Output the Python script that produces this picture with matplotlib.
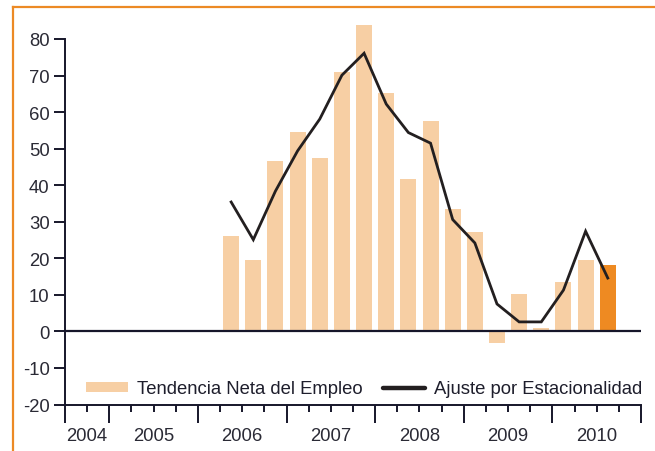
#!/usr/bin/env python3
"""Tendencia neta del empleo vs. ajuste por estacionalidad (trimestral)."""

import matplotlib
matplotlib.use('Agg')
import matplotlib.pyplot as plt
from matplotlib.lines import Line2D
from matplotlib.patches import Patch

plt.rcParams['font.family'] = ['Liberation Sans', 'DejaVu Sans']
plt.rcParams['axes.unicode_minus'] = False

# Years shown on the x axis and how many quarters each one spans
years = ['2004', '2005', '2006', '2007', '2008', '2009', '2010']
quarters_per_year = [2, 4, 4, 4, 4, 4, 4]
first_quarter = [3, 1, 1, 1, 1, 1, 1]

# Series start in 2006 Q2
series_start = ('2006', 2)
tendencia = [26.2, 19.4, 46.5, 54.5, 47.4, 71.0, 83.8, 65.2, 41.6, 57.5,
             33.4, 27.2, -3.3, 10.1, 0.9, 13.4, 19.5, 18.3]
ajuste = [35.4, 25.1, 38.4, 49.4, 58.1, 70.1, 76.1, 62.2, 54.4, 51.5,
          30.6, 24.2, 7.5, 2.6, 2.6, 11.3, 27.4, 14.6]

BAR_LIGHT = '#F7CFA4'
BAR_DARK = '#EE8A22'
LINE_COL = '#231F20'
AXIS_COL = '#16162A'
TEXT_COL = '#1E1E2C'
FS = 13.3

# quarter slots along the axis
slots = []
for y, n, q0 in zip(years, quarters_per_year, first_quarter):
    for k in range(n):
        slots.append((y, q0 + k))
start = slots.index(series_start)
xs = [start + i + 0.5 for i in range(len(tendencia))]
bar_colors = [BAR_LIGHT] * (len(tendencia) - 1) + [BAR_DARK]

fig = plt.figure(figsize=(6.55, 4.52), dpi=100)
W, H = 655, 452
ax = fig.add_axes([65 / W, (H - 405.5) / H, 576 / W, 365.5 / H])

ax.bar(xs, tendencia, width=0.72, color=bar_colors, clip_on=False, zorder=2)
ax.plot(xs, ajuste, color=LINE_COL, linewidth=2.0, zorder=3,
        solid_joinstyle='miter')
ax.axhline(0, color=AXIS_COL, linewidth=1.6, zorder=4)

ax.set_xlim(0, len(slots))
ax.set_ylim(-20, 80)

for side in ['top', 'right']:
    ax.spines[side].set_visible(False)
for side in ['left', 'bottom']:
    ax.spines[side].set_color(AXIS_COL)
    ax.spines[side].set_linewidth(1.4)

ax.set_yticks(range(-20, 81, 10))
ax.tick_params(axis='y', direction='out', length=8, width=1.4,
               color=AXIS_COL, labelsize=FS, labelcolor='#2a2a35', pad=3)

# year boundaries as major ticks, quarters as minor ticks
bounds = [0]
for n in quarters_per_year:
    bounds.append(bounds[-1] + n)
ax.set_xticks(bounds)
ax.set_xticklabels([])
ax.set_xticks(range(len(slots) + 1), minor=True)
ax.tick_params(axis='x', which='major', direction='out', length=13,
               width=1.4, color=AXIS_COL)
ax.tick_params(axis='x', which='minor', direction='out', length=5,
               width=1.4, color=AXIS_COL)

for i, y in enumerate(years):
    c = (bounds[i] + bounds[i + 1]) / 2
    ax.annotate(y, xy=(c, 0), xycoords=('data', 'axes fraction'),
                xytext=(0, -22.5), textcoords='offset points',
                ha='center', va='center', fontsize=FS, color='#2a2a35')

handles = [Patch(facecolor=BAR_LIGHT, edgecolor='none'),
           Line2D([], [], color=LINE_COL, linewidth=3.2,
                  solid_capstyle='round')]
labels = ['Tendencia Neta del Empleo', 'Ajuste por Estacionalidad']
leg = ax.legend(handles, labels, loc='center left', ncol=2,
                bbox_to_anchor=(21 / 576, 0.043), frameon=False,
                fontsize=FS, borderpad=0, borderaxespad=0,
                handlelength=2.3, handleheight=0.45, handletextpad=0.45,
                columnspacing=1.1)
for t in leg.get_texts():
    t.set_color(TEXT_COL)

# orange frame at top and left of the figure
frame_col = '#EC8A25'
fig.add_artist(Line2D([13 / W, 1], [1 - 8 / H, 1 - 8 / H],
                      transform=fig.transFigure, color=frame_col, lw=1.6))
fig.add_artist(Line2D([13 / W, 13 / W], [0, 1 - 8 / H],
                      transform=fig.transFigure, color=frame_col, lw=1.6))

fig.savefig('out.png', dpi=100)
